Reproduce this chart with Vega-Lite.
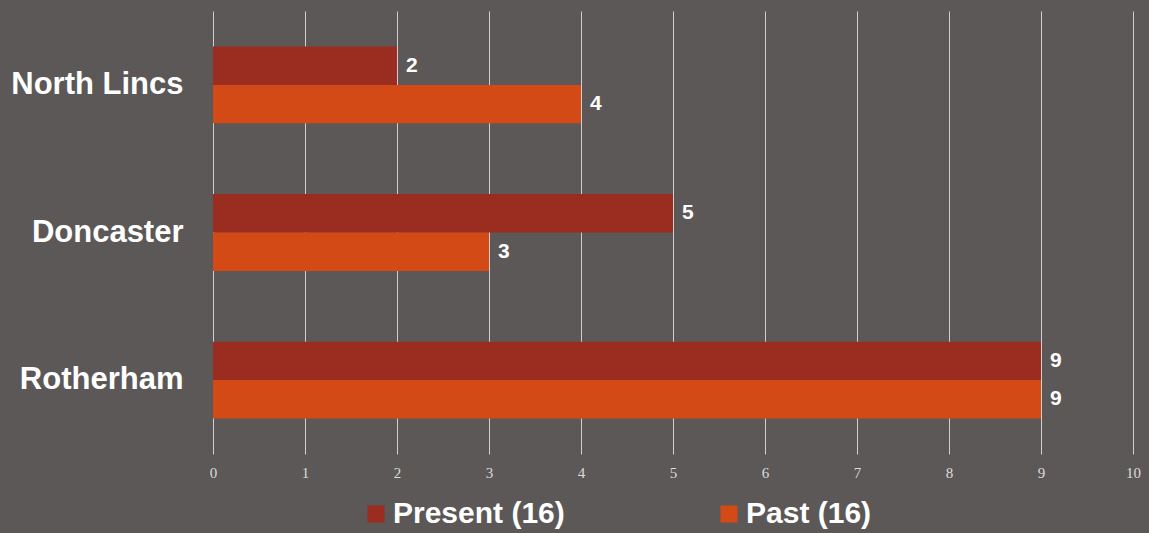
{
  "$schema": "https://vega.github.io/schema/vega-lite/v6.json",
  "width": 920,
  "height": 443,
  "autosize": {"type": "none"},
  "padding": {"left": 213, "top": 11, "right": 16, "bottom": 79},
  "background": "#5b5857",
  "config": {
    "view": {"stroke": null},
    "font": "Liberation Sans"
  },
  "data": {
    "values": [
      {"region": "North Lincs", "series": "Present (16)", "value": 2},
      {"region": "North Lincs", "series": "Past (16)", "value": 4},
      {"region": "Doncaster", "series": "Present (16)", "value": 5},
      {"region": "Doncaster", "series": "Past (16)", "value": 3},
      {"region": "Rotherham", "series": "Present (16)", "value": 9},
      {"region": "Rotherham", "series": "Past (16)", "value": 9}
    ]
  },
  "encoding": {
    "y": {
      "field": "region",
      "type": "nominal",
      "sort": ["North Lincs", "Doncaster", "Rotherham"],
      "scale": {"paddingInner": 0.479, "paddingOuter": 0.24},
      "axis": {
        "title": null,
        "ticks": false,
        "domain": false,
        "labelPadding": 30,
        "labelFont": "Liberation Sans",
        "labelFontWeight": "bold",
        "labelFontSize": 31,
        "labelColor": "#ffffff",
        "labelLimit": 300
      }
    },
    "yOffset": {
      "field": "series",
      "type": "nominal",
      "sort": ["Present (16)", "Past (16)"],
      "scale": {"paddingInner": 0, "paddingOuter": 0}
    },
    "x": {
      "field": "value",
      "type": "quantitative",
      "scale": {"domain": [0, 10], "nice": false},
      "axis": {
        "title": null,
        "ticks": false,
        "domain": false,
        "values": [0, 1, 2, 3, 4, 5, 6, 7, 8, 9, 10],
        "labelOverlap": false,
        "labelFlush": false,
        "grid": true,
        "gridColor": "#cfcfcf",
        "gridWidth": 1,
        "gridOpacity": 1,
        "labelPadding": 11,
        "labelFont": "Liberation Serif",
        "labelFontSize": 15,
        "labelColor": "#dcdcdc"
      }
    }
  },
  "layer": [
    {
      "mark": {"type": "bar", "cornerRadius": 0},
      "encoding": {
        "color": {
          "field": "series",
          "type": "nominal",
          "sort": ["Present (16)", "Past (16)"],
          "scale": {"domain": ["Present (16)", "Past (16)"], "range": ["#9b2c20", "#d34a17"]},
          "legend": {
            "title": null,
            "orient": "none",
            "legendX": 148,
            "legendY": 488,
            "direction": "horizontal",
            "symbolType": "square",
            "symbolSize": 289,
            "symbolStrokeWidth": 0,
            "symbolOpacity": 1,
            "labelFont": "Liberation Sans",
            "labelFontWeight": "bold",
            "labelFontSize": 30,
            "labelColor": "#ffffff",
            "labelOffset": 2,
            "labelLimit": 400,
            "columnPadding": 149,
            "padding": 0
          }
        }
      }
    },
    {
      "mark": {
        "type": "text",
        "align": "left",
        "baseline": "middle",
        "dx": 9,
        "font": "Liberation Sans",
        "fontWeight": "bold",
        "fontSize": 21,
        "color": "#ffffff"
      },
      "encoding": {
        "text": {"field": "value", "type": "quantitative"}
      }
    }
  ]
}
